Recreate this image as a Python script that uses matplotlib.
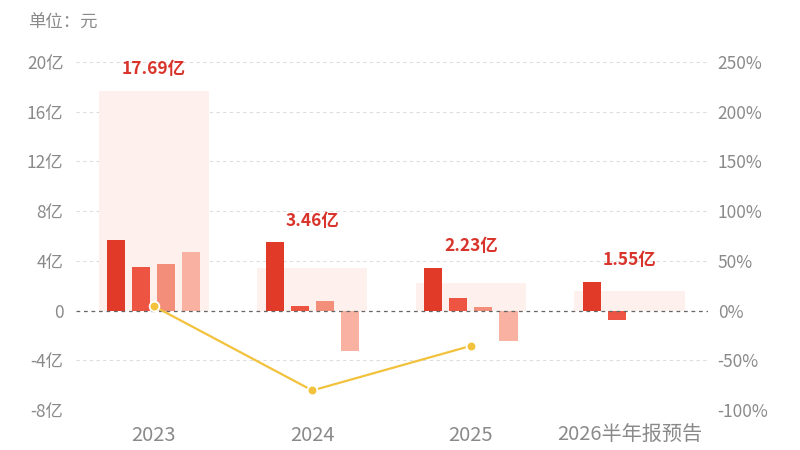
import matplotlib
matplotlib.use("Agg")
import matplotlib.pyplot as plt
import numpy as np

plt.rcParams['font.family'] = ['Noto Sans CJK SC', 'DejaVu Sans']

# ---- data ----
categories = ["2023", "2024", "2025", "2026半年报预告"]
totals = [17.69, 3.46, 2.23, 1.55]            # 亿
total_labels = ["17.69亿", "3.46亿", "2.23亿", "1.55亿"]
q1 = [5.70, 5.50, 3.45, 2.30]
q2 = [3.50, 0.38, 0.98, -0.75]
q3 = [3.76, 0.80, 0.25, None]
q4 = [4.73, -3.22, -2.45, None]
growth = [4.5, -80.4, -35.5]                  # %
growth_idx = [0, 1, 2]

left_ticks = [-8, -4, 0, 4, 8, 12, 16, 20]
left_labels = ["-8亿", "-4亿", "0", "4亿", "8亿", "12亿", "16亿", "20亿"]
right_ticks = [-100, -50, 0, 50, 100, 150, 200, 250]
right_labels = ["-100%", "-50%", "0%", "50%", "100%", "150%", "200%", "250%"]

quarter_colors = ["#E13A28", "#EE5442", "#F28E7A", "#F9B2A2"]
bg_color = "#FEF0EC"
label_red = "#D9342B"
gray = "#8A8A8A"
line_color = "#F2C23C"

fig = plt.figure(figsize=(8, 4.5), dpi=100)
ax = fig.add_axes([0.095, 0.089, 0.79, 0.773])
ax2 = ax.twinx()

x = np.arange(len(categories))
bw = 0.114
step = 0.158
offsets = [-1.5 * step, -0.5 * step, 0.5 * step, 1.5 * step]

# background total rectangles
ax.bar(x, totals, width=0.695, color=bg_color, zorder=1)

for qi, series in enumerate([q1, q2, q3, q4]):
    xs = [xi + offsets[qi] for xi, v in zip(x, series) if v is not None]
    vs = [v for v in series if v is not None]
    ax.bar(xs, vs, width=bw, color=quarter_colors[qi], zorder=3)

for xi, t, lab, a, b in zip(x, totals, total_labels, q1, q2):
    top = max(t, a, b)
    ax.annotate(lab, (xi, top), xytext=(0, 9), textcoords="offset points",
                ha="center", va="bottom", color=label_red, fontsize=12.5,
                fontweight="bold", zorder=5)

ax.set_xlim(-0.49, 3.495)
ax.set_ylim(-8, 20)
ax2.set_ylim(-100, 250)

ax.set_yticks(left_ticks)
ax.set_yticklabels(left_labels)
ax2.set_yticks(right_ticks)
ax2.set_yticklabels(right_labels)
ax.set_xticks(x)
ax.set_xticklabels(categories)

for a in (ax, ax2):
    for s in a.spines.values():
        s.set_visible(False)
    a.tick_params(length=0, colors=gray, labelsize=12.5)
ax.tick_params(axis="y", pad=9)
ax2.tick_params(axis="y", pad=7)
ax.tick_params(axis="x", pad=11, labelsize=14.5)

for t in left_ticks:
    if t == 0:
        ax.axhline(0, color="#666666", lw=0.9, ls=(0, (3, 3)), zorder=4)
    else:
        ax.axhline(t, color="#DDDDDD", lw=0.8, ls=(0, (3, 3)), zorder=0)

ax2.plot(growth_idx, growth, color=line_color, lw=1.6, zorder=6,
         marker="o", markersize=7, markerfacecolor=line_color,
         markeredgecolor="white", markeredgewidth=1.3)

ax2.patch.set_visible(False)

fig.text(0.035, 0.95, "单位：元", color=gray, fontsize=12.5, ha="left", va="center")

fig.savefig("out.png", dpi=100)
